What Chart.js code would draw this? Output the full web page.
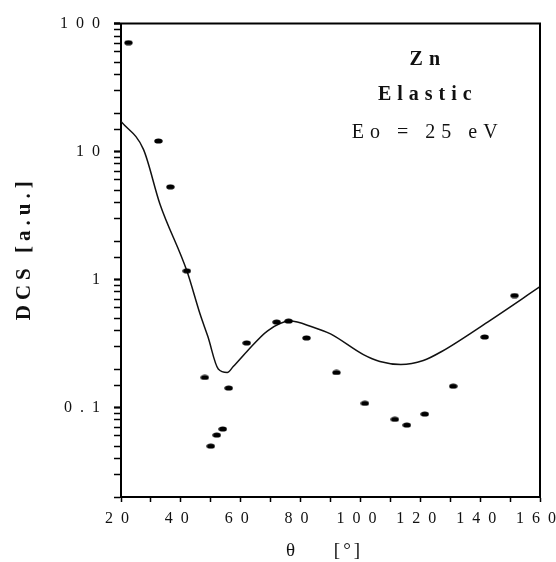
<!DOCTYPE html>
<html>
<head>
<meta charset="utf-8">
<script src="https://cdn.jsdelivr.net/npm/chart.js@4.4.1/dist/chart.umd.min.js"></script>
<style>
  html, body { margin: 0; padding: 0; background: #fff; }
  canvas { display: block; }
</style>
</head>
<body>
<canvas id="chart" width="556" height="562"></canvas>
<script>
// Theory curve (solid line)
const curveAngles = [20, 27.5, 33, 42, 46.5, 49, 52.5, 55.5, 57.5, 62, 69, 76.5, 84, 90, 101, 106.5, 113.5, 121, 127, 142.5, 160];
const curveDcs    = [17.2, 10.4, 3.9, 1.17, 0.53, 0.36, 0.20, 0.188, 0.209, 0.273, 0.398, 0.474, 0.426, 0.376, 0.259, 0.229, 0.217, 0.233, 0.273, 0.466, 0.88];

// Measured points (black dots)
const expAngles = [22.5, 32.5, 36.5, 42, 48, 50, 52, 54, 56, 62, 72, 76, 82, 92, 101.5, 111.5, 115.5, 121.5, 131, 141.5, 151.5];
const expDcs    = [71, 12.1, 5.3, 1.17, 0.172, 0.050, 0.061, 0.068, 0.142, 0.32, 0.466, 0.474, 0.35, 0.188, 0.108, 0.081, 0.073, 0.089, 0.147, 0.356, 0.75];

// Axis labels
const xLabelTicks = [20, 40, 60, 80, 100, 120, 140, 160];
const yDecadeLabels = { 100: '1\u20020\u20020', 10: '1\u20020', 1: '1', 0.1: '0\u2002.\u20021' };

const SERIF = '"Liberation Serif", "DejaVu Serif", serif';

// small flattened dot like the scanned markers
function makeDot() {
  const c = document.createElement('canvas');
  c.width = 9; c.height = 6;
  const g = c.getContext('2d');
  g.fillStyle = '#000';
  g.beginPath();
  g.ellipse(4.5, 3, 4.2, 2.6, 0, 0, Math.PI * 2);
  g.fill();
  return c;
}

const spaced = n => String(n).split('').join('\u2002');

// frame (top + right edge) and the texts
const framePlugin = {
  id: 'frame',
  afterDraw(chart) {
    const { ctx, chartArea: a, scales } = chart;
    ctx.save();
    ctx.strokeStyle = '#000';
    ctx.lineWidth = 2;
    ctx.beginPath();
    ctx.moveTo(a.left - 7, a.top);
    ctx.lineTo(a.right, a.top);
    ctx.lineTo(a.right, a.bottom);
    ctx.stroke();

    ctx.fillStyle = '#111';
    ctx.textAlign = 'center';
    ctx.textBaseline = 'middle';

    // annotation block, placed in data coordinates
    const ax = scales.x.getPixelForValue(121.5);
    ctx.letterSpacing = '6px';
    ctx.font = 'bold 20px ' + SERIF;
    ctx.fillText('Zn', ax + 3, scales.y.getPixelForValue(51.8));
    ctx.fillText('Elastic', ax + 3, scales.y.getPixelForValue(27.8));
    ctx.font = '20px ' + SERIF;
    ctx.fillText('Eo = 25 eV', ax + 3, scales.y.getPixelForValue(14.1));

    // axis titles
    ctx.letterSpacing = '5px';
    ctx.font = 'bold 21px ' + SERIF;
    ctx.save();
    ctx.translate(25, (a.top + a.bottom) / 2 - 12);
    ctx.rotate(-Math.PI / 2);
    ctx.fillText('DCS [a.u.]', 0, 0);
    ctx.restore();

    ctx.letterSpacing = '0px';
    ctx.font = '19px ' + SERIF;
    ctx.fillText('\u03b8', (a.left + a.right) / 2 - 40, a.bottom + 54);
    ctx.letterSpacing = '3px';
    ctx.fillText('[\u00b0]', (a.left + a.right) / 2 + 18, a.bottom + 54);
    ctx.restore();
  }
};

new Chart(document.getElementById('chart'), {
  type: 'scatter',
  data: {
    datasets: [
      {
        label: 'theory',
        data: curveAngles.map((x, i) => ({ x, y: curveDcs[i] })),
        showLine: true,
        borderColor: '#111',
        borderWidth: 1.5,
        pointRadius: 0,
        cubicInterpolationMode: 'monotone',
        order: 2,
      },
      {
        label: 'experiment',
        data: expAngles.map((x, i) => ({ x, y: expDcs[i] })),
        pointStyle: makeDot(),
        pointRadius: 4,
        order: 1,
      },
    ],
  },
  options: {
    responsive: false,
    animation: false,
    layout: { padding: { top: 18, right: 16, left: 0, bottom: 0 } },
    plugins: { legend: { display: false }, tooltip: { enabled: false } },
    scales: {
      x: {
        type: 'linear',
        min: 20,
        max: 160,
        afterFit(scale) { scale.height = 65; scale.paddingLeft = 0; scale.paddingRight = 0; },
        border: { color: '#000', width: 2 },
        grid: { drawOnChartArea: false, drawTicks: true, tickLength: 5, tickColor: '#000', tickWidth: 1.5 },
        ticks: {
          stepSize: 10,
          autoSkip: false,
          maxRotation: 0,
          padding: 7,
          labelOffset: -4,
          color: '#111',
          font: { family: SERIF, size: 16 },
          callback: v => (xLabelTicks.includes(v) ? spaced(v) : ''),
        },
      },
      y: {
        type: 'logarithmic',
        min: 0.02,
        max: 100,
        afterFit(scale) { scale.width = 121; },
        border: { color: '#000', width: 2 },
        grid: {
          drawOnChartArea: false,
          drawTicks: true,
          tickLength: 7,
          tickColor: '#000',
          tickWidth: ctx => (ctx.tick && yDecadeLabels[ctx.tick.value] ? 2.2 : 1.5),
        },
        ticks: {
          autoSkip: false,
          padding: 14,
          color: '#111',
          font: { family: SERIF, size: 16 },
          callback: v => yDecadeLabels[v] || '',
        },
      },
    },
  },
  plugins: [framePlugin],
});
</script>
</body>
</html>
